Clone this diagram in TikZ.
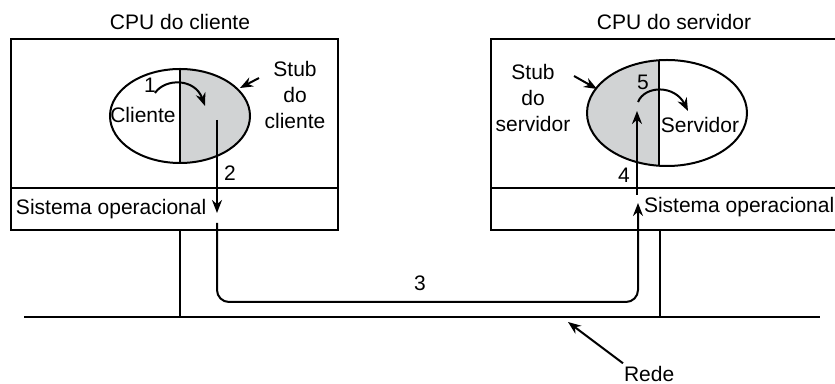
\documentclass[tikz,border=0pt]{standalone}
\usepackage{fontspec}
\setmainfont{Liberation Sans}
\usepackage{xcolor}
\usetikzlibrary{arrows.meta, shapes.geometric}

\definecolor{stubgray}{RGB}{209,211,212}

\tikzset{
    lbl/.style={font=\fontsize{10.5}{13}\selectfont, inner sep=0pt},
    flow/.style={-{Stealth[length=6.5pt, width=5pt]}, line width=1pt},
    proc/.style={ellipse, draw, line width=1pt, inner sep=0pt},
}

\begin{document}
\begin{tikzpicture}[x=0.5pt, y=-0.5pt, line width=1pt]
        \useasboundingbox (0,0) rectangle (835,384);
        \clip (0,0) rectangle (835,384);

        % maquinas
        \draw (11,39) rectangle (338,230);
        \draw (11,188) -- (338,188);
        \draw (491,39) rectangle (850,230);
        \draw (491,188) -- (850,188);
        \node[lbl] (cpucli) at (180,22) {CPU do cliente};
        \node[lbl] (cpuser) at (674,22) {CPU do servidor};
        \node[lbl, anchor=west] (socli) at (15,209) {Sistema operacional};
        \node[lbl, anchor=west] (soser) at (643,207) {Sistema operacional};

        % rede
        \coordinate (redeA) at (24,317);
        \coordinate (redeB) at (820,317);
        \draw (redeA) -- (redeB);
        \draw (180,230) -- (180,317);
        \draw (660,230) -- (660,317);
        \node[lbl, anchor=west] (rede) at (623,374) {Rede};
        \coordinate (redept) at (568,322);
        \draw[flow] (rede.north west) ++(0,-2) -- (redept);

        % processo cliente
        \begin{scope}
            \clip (180,116) ellipse [x radius=35pt, y radius=23.5pt];
            \fill[stubgray] (180,60) rectangle (260,170);
        \end{scope}
        \node[proc, minimum width=70pt, minimum height=47pt] (pcli) at (180,116) {};
        \draw (pcli.north) -- (pcli.south);
        \node[lbl] (cliente) at (143,115) {Cliente};
        \node[lbl, align=center] (stubcli) at (295,95) {Stub\\do\\cliente};
        \coordinate (stubclipt) at (240,88);
        \draw[flow] (259,78) -- (stubclipt);

        % processo servidor
        \begin{scope}
            \clip (667,113) ellipse [x radius=40pt, y radius=26.5pt];
            \fill[stubgray] (580,50) rectangle (659,175);
        \end{scope}
        \node[proc, minimum width=80pt, minimum height=53pt] (pser) at (667,113) {};
        \draw (659,60.3) -- (659,165.7);
        \node[lbl] (servidor) at (700,125) {Servidor};
        \node[lbl, align=center] (stubser) at (533,98) {Stub\\do\\servidor};
        \coordinate (stubserpt) at (597,89);
        \draw[flow] (574,76) -- (stubserpt);

        % passos
        \coordinate (p1a) at (155,93);
        \coordinate (p1b) at (205,106);
        \draw[flow] (p1a) .. controls (165,78) and (195,78) .. (p1b);
        \coordinate (p2a) at (217,120);
        \coordinate (p2b) at (217,213);
        \draw[flow] (p2a) -- (p2b);
        \coordinate (p3a) at (217,223);
        \coordinate (p3b) at (638,203);
        \draw[flow, rounded corners=6pt] (p3a) |- (638,302) -- (p3b);
        \coordinate (p4a) at (637,195);
        \coordinate (p4b) at (637,111);
        \draw[flow] (p4a) -- (p4b);
        \coordinate (p5a) at (638,102);
        \coordinate (p5b) at (688,111);
        \draw[flow] (p5a) .. controls (645,85) and (675,85) .. (p5b);

        \node[lbl] (n1) at (150,85) {1};
        \node[lbl] (n2) at (230,173) {2};
        \node[lbl] (n3) at (420,283) {3};
        \node[lbl] (n4) at (624,175) {4};
        \node[lbl] (n5) at (643,82) {5};
    \end{tikzpicture}
\end{document}
